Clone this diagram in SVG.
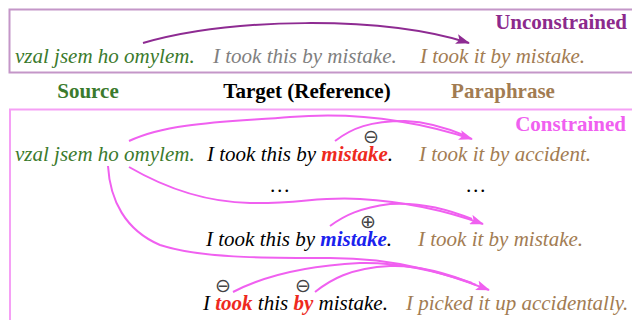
<svg xmlns="http://www.w3.org/2000/svg" width="632" height="320" viewBox="0 0 632 320">
<defs>
<style>
.it{font-family:"Liberation Serif","Times New Roman",serif;font-style:italic;font-size:21px}
.bd{font-family:"Liberation Serif","Times New Roman",serif;font-weight:bold;font-size:21px}
.bi{font-weight:bold}
.sym{font-family:"DejaVu Sans",sans-serif;font-size:19px;fill:#444;text-anchor:middle}
.green{fill:#3b7a2d}.gray{fill:#808080}.brown{fill:#a27c52}.black{fill:#000}
.red{fill:#ee2a1e}.blue{fill:#1a22ee}
.pk{fill:none;stroke:#f060f0;stroke-width:2}
.pu{fill:none;stroke:#8e2b92;stroke-width:2}
</style>
<marker id="ap" viewBox="0 0 14 10" refX="13" refY="5" markerWidth="14" markerHeight="10" markerUnits="userSpaceOnUse" orient="auto"><path d="M0,0 L14,5 L0,10 L3,5 Z" fill="#f060f0"/></marker>
<marker id="au" viewBox="0 0 14 10" refX="13" refY="5" markerWidth="14" markerHeight="10" markerUnits="userSpaceOnUse" orient="auto"><path d="M0,0 L14,5 L0,10 L3,5 Z" fill="#8e2b92"/></marker>
</defs>
<rect width="632" height="320" fill="#fff"/>
<g id="unconstrained-box">
<rect x="9.5" y="9.5" width="640" height="63" fill="none" stroke="#c496c8" stroke-width="2"/>
<text class="bd" x="627" y="29" text-anchor="end" fill="#8c2a8c">Unconstrained</text>
</g>
<g id="u-source"><text class="it green" x="15" y="63">vzal jsem ho omylem.</text></g>
<g id="u-target"><text class="it gray" x="213" y="63">I took this by mistake.</text></g>
<g id="u-para"><text class="it brown" x="420" y="63">I took it by mistake.</text></g>
<g id="headers">
<text class="bd green" x="88" y="98" text-anchor="middle">Source</text>
<text class="bd black" x="307" y="98" text-anchor="middle">Target (Reference)</text>
<text class="bd brown" x="503" y="98" text-anchor="middle">Paraphrase</text>
</g>
<g id="constrained-box">
<rect x="10" y="109.5" width="640" height="240" fill="none" stroke="#f5a0f5" stroke-width="2"/>
<text class="bd" x="626" y="131" text-anchor="end" fill="#f060f0">Constrained</text>
</g>
<g id="c-source"><text class="it green" x="15" y="161">vzal jsem ho omylem.</text></g>
<g id="c-target1"><text class="it black" x="207" y="161">I took this by <tspan class="bi red">mistake</tspan>.</text>
<text class="sym" x="371" y="143">⊖</text></g>
<g id="c-para1"><text class="it brown" x="419" y="161">I took it by accident.</text></g>
<g id="dots">
<text class="it black" x="280" y="192" text-anchor="middle">…</text>
<text class="it black" x="476" y="192" text-anchor="middle">…</text>
</g>
<g id="c-target2"><text class="it black" x="206" y="246">I took this by <tspan class="bi blue">mistake</tspan>.</text>
<text class="sym" x="368" y="228">⊕</text></g>
<g id="c-para2"><text class="it brown" x="418" y="246">I took it by mistake.</text></g>
<g id="c-target3"><text class="it black" x="203" y="310">I <tspan class="bi red">took</tspan> this <tspan class="bi red">by</tspan> mistake.</text>
<text class="sym" x="223" y="292">⊖</text>
<text class="sym" x="303" y="292">⊖</text></g>
<g id="c-para3"><text class="it brown" x="406" y="310">I picked it up accidentally.</text></g>
<g id="connectors">
<path class="pu" d="M143,43 C230,18 380,15 469,43" marker-end="url(#au)"/>
<path class="pk" d="M129,141 C170,122 230,122 290,117 C360,111 420,122 472,139" marker-end="url(#ap)"/>
<path class="pk" d="M335,141 C352,128 370,121 405,121 C430,122 452,130 466,136"/>
<path class="pk" d="M129,167 C160,185 200,202 250,203 C300,204 320,196 360,199 C410,202 450,212 483,224" marker-end="url(#ap)"/>
<path class="pk" d="M330,226 C345,215 360,208 390,204 C420,202 450,210 472,219"/>
<path class="pk" d="M108,166 C110,200 125,230 160,245 C200,258 260,258 330,258 C400,258 450,275 489,290" marker-end="url(#ap)"/>
<path class="pk" d="M233,292 C260,278 300,266 360,263 C400,262 440,272 472,283"/>
<path class="pk" d="M315,292 C330,280 350,268 390,266 C420,265 450,274 476,285"/>
</g>
</svg>
